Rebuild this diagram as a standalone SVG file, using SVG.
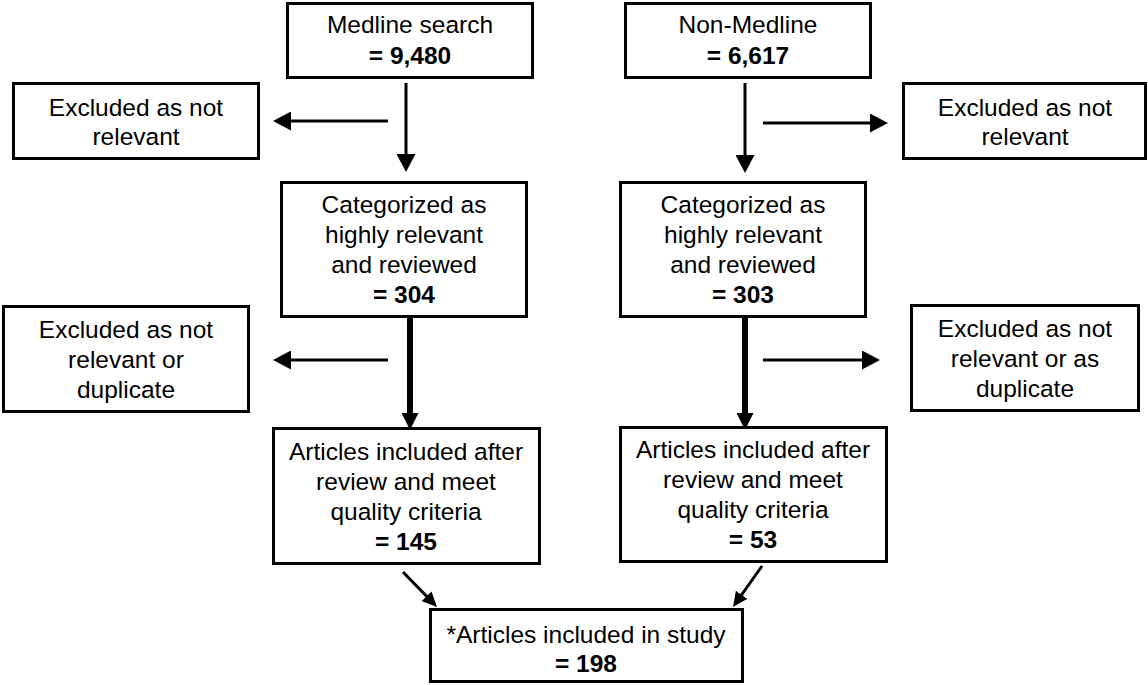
<svg xmlns="http://www.w3.org/2000/svg" width="1148" height="685" viewBox="0 0 1148 685">
<style>
.box{fill:#fff;stroke:#000;stroke-width:3}
text{font-family:"Liberation Sans",Arial,Helvetica,sans-serif;font-size:24.5px;fill:#000;text-anchor:middle}
.b{font-weight:bold}
.thin{stroke:#000;stroke-width:3;fill:none;marker-end:url(#ah)}
.thick{stroke:#000;stroke-width:6;fill:none;marker-end:url(#ahk)}
.diag{stroke:#000;stroke-width:3;fill:none;marker-end:url(#ahs)}
</style>
<defs>
<marker id="ah" markerUnits="userSpaceOnUse" markerWidth="18" markerHeight="19" refX="8" refY="9.5" orient="auto"><path d="M0,0 L18,9.5 L0,19 z" fill="#000"/></marker>
<marker id="ahk" markerUnits="userSpaceOnUse" markerWidth="17" markerHeight="17" refX="6" refY="8.5" orient="auto"><path d="M0,0 L17,8.5 L0,17 z" fill="#000"/></marker>
<marker id="ahs" markerUnits="userSpaceOnUse" markerWidth="15" markerHeight="14" refX="7" refY="7" orient="auto"><path d="M0,0 L15,7 L0,14 z" fill="#000"/></marker>
</defs>
<rect width="1148" height="685" fill="#fff"/>
<g id="connectors">
<line class="thin" x1="406" y1="83" x2="406" y2="162"/>
<line class="thin" x1="745" y1="83" x2="745" y2="163"/>
<line class="thin" x1="388" y1="121" x2="283" y2="121"/>
<line class="thin" x1="763" y1="123" x2="878" y2="123"/>
<line class="thick" x1="410" y1="313" x2="410" y2="419"/>
<line class="thick" x1="745" y1="313" x2="745" y2="419"/>
<line class="thin" x1="388" y1="360" x2="283" y2="360"/>
<line class="thin" x1="763" y1="360" x2="870" y2="360"/>
<line class="diag" x1="403" y1="572" x2="431.4" y2="601.3"/>
<line class="diag" x1="762" y1="566" x2="737.6" y2="600.5"/>
</g>
<g id="medline">
<rect class="box" x="287.5" y="3.5" width="245" height="74"/>
<text x="410" y="33">Medline search</text>
<text x="410" y="64" class="b">= 9,480</text>
</g>
<g id="nonmedline">
<rect class="box" x="625.5" y="3.5" width="245" height="74"/>
<text x="748" y="33">Non-Medline</text>
<text x="748" y="64" class="b">= 6,617</text>
</g>
<g id="excl-l1">
<rect class="box" x="13.5" y="83.5" width="245" height="75"/>
<text x="136" y="116">Excluded as not</text>
<text x="136" y="145">relevant</text>
</g>
<g id="excl-r1">
<rect class="box" x="903.5" y="83.5" width="242" height="75"/>
<text x="1025" y="116">Excluded as not</text>
<text x="1025" y="145">relevant</text>
</g>
<g id="cat-l">
<rect class="box" x="281.5" y="182.5" width="245" height="134"/>
<text x="404" y="213">Categorized as</text>
<text x="404" y="243">highly relevant</text>
<text x="404" y="273">and reviewed</text>
<text x="404" y="303" class="b">= 304</text>
</g>
<g id="cat-r">
<rect class="box" x="620.5" y="182.5" width="245" height="134"/>
<text x="743" y="213">Categorized as</text>
<text x="743" y="243">highly relevant</text>
<text x="743" y="273">and reviewed</text>
<text x="743" y="303" class="b">= 303</text>
</g>
<g id="excl-l2">
<rect class="box" x="3.5" y="306.5" width="245" height="105"/>
<text x="126" y="338">Excluded as not</text>
<text x="126" y="368">relevant or</text>
<text x="126" y="398">duplicate</text>
</g>
<g id="excl-r2">
<rect class="box" x="911.5" y="305.5" width="227" height="105"/>
<text x="1025" y="337">Excluded as not</text>
<text x="1025" y="367">relevant or as</text>
<text x="1025" y="397">duplicate</text>
</g>
<g id="art-l">
<rect class="box" x="273.5" y="428.5" width="266" height="135"/>
<text x="406" y="460">Articles included after</text>
<text x="406" y="490">review and meet</text>
<text x="406" y="520">quality criteria</text>
<text x="406" y="550" class="b">= 145</text>
</g>
<g id="art-r">
<rect class="box" x="620.5" y="427.5" width="266" height="134"/>
<text x="753" y="458">Articles included after</text>
<text x="753" y="488">review and meet</text>
<text x="753" y="518">quality criteria</text>
<text x="753" y="548" class="b">= 53</text>
</g>
<g id="final">
<rect class="box" x="430.5" y="609.5" width="312" height="72"/>
<text x="586" y="643">*Articles included in study</text>
<text x="586" y="672" class="b">= 198</text>
</g>
</svg>
